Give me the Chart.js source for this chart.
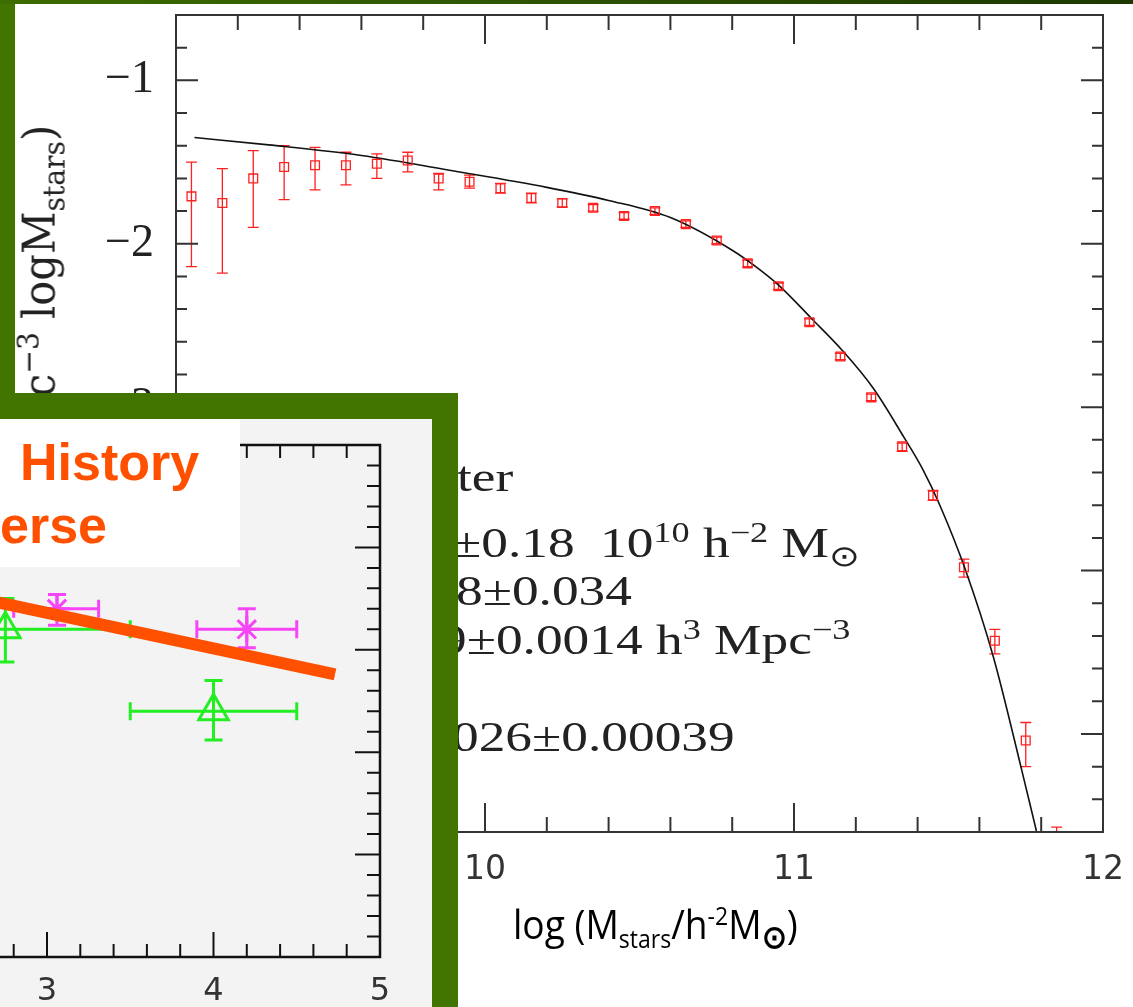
<!DOCTYPE html>
<html><head><meta charset="utf-8">
<script src="https://cdn.jsdelivr.net/npm/chart.js@4.4.1/dist/chart.umd.min.js"></script>
<style>
html,body{margin:0;padding:0;}
body{width:1133px;height:1007px;position:relative;overflow:hidden;background:#427500;}
#topbar{position:absolute;left:0;top:0;width:1133px;height:4px;background:linear-gradient(to right,#3d6c00,#1c3800);z-index:1;}
#mainPanel{position:absolute;left:15px;top:3px;width:1118px;height:1004px;background:#fff;}
#c1{position:absolute;left:0;top:0;}
.leg{position:absolute;white-space:pre;font-family:"Liberation Serif",serif;color:#222;font-size:42px;line-height:42px;transform-origin:0 0;transform:scaleX(1.27);}
.leg sup,.leg sub{font-size:0.68em;line-height:0;}
#ytitle{position:absolute;white-space:pre;font-family:"DejaVu Serif",serif;color:#222;font-size:40px;line-height:44px;transform-origin:0 0;}
#ytitle sup,#ytitle sub{font-size:0.68em;line-height:0;}
#xtitle{position:absolute;white-space:pre;font-family:"Open Sans",sans-serif;color:#000;font-size:40px;line-height:40px;transform-origin:0 0;}
#xtitle sup,#xtitle sub{font-size:0.62em;line-height:0;}
#inset{position:absolute;left:0;top:393px;width:458px;height:614px;background:#427500;overflow:hidden;z-index:5;}
#insetPanel{position:absolute;left:0;top:26px;width:432px;height:588px;background:#f3f3f3;overflow:hidden;}
#c2{position:absolute;left:-560px;top:0;}
#titleBox{position:absolute;left:0;top:0;width:240px;height:148px;background:#fff;z-index:2;}
.orange{position:absolute;font-family:"Liberation Sans",Arial,sans-serif;font-weight:bold;font-size:52px;color:#ff5000;line-height:52px;white-space:pre;}
</style>
</head>
<body>
<div id="mainPanel"></div>
<canvas id="c1" width="1133" height="1007"></canvas>
<div id="ytitle">c<sup>−3</sup> logM<sub>stars</sub>)</div>
<div class="leg" style="left:457px;top:456px;">ter</div>
<div class="leg" style="left:452px;top:522px;">±0.18<span style="margin-left:20px"></span>10<sup>10</sup> h<sup>−2</sup> M<sub>⊙</sub></div>
<div class="leg" style="left:456px;top:570px;">8±0.034</div>
<div class="leg" style="left:440px;top:619px;">9±0.0014 h<sup>3</sup> Mpc<sup>−3</sup></div>
<div class="leg" style="left:452px;top:716px;">026±0.00039</div>
<div id="xtitle">log (M<sub>stars</sub>/h<sup>-2</sup>M<sub style="font-weight:bold;font-size:0.8em">⊙</sub>)</div>
<div id="topbar"></div>
<div id="inset">
  <div id="insetPanel">
    <div id="titleBox">
      <div class="orange" style="left:20px;top:17px;">History</div>
      <div class="orange" style="left:0px;top:80px;">erse</div>
    </div>
    <canvas id="c2" width="992" height="588"></canvas>
  </div>
</div>
<script>
// ===== Main chart: stellar mass function =====
const massBins = [9.05,9.15,9.25,9.35,9.45,9.55,9.65,9.75,9.85,9.95,10.05,10.15,10.25,10.35,10.45,10.55,10.65,10.75,10.85,10.95,11.05,11.15,11.25,11.35,11.45,11.55,11.65,11.75,11.85];
const logPhi = [-1.71,-1.75,-1.60,-1.53,-1.52,-1.52,-1.51,-1.49,-1.60,-1.62,-1.66,-1.72,-1.75,-1.78,-1.83,-1.80,-1.88,-1.98,-2.12,-2.26,-2.48,-2.69,-2.94,-3.24,-3.54,-3.98,-4.43,-5.04,-5.75];
const logPhiLow = [-2.14,-2.18,-1.90,-1.73,-1.67,-1.64,-1.60,-1.56,-1.67,-1.66,-1.69,-1.75,-1.775,-1.80,-1.85,-1.82,-1.90,-2.00,-2.14,-2.28,-2.50,-2.71,-2.96,-3.27,-3.57,-4.04,-4.51,-5.20,-5.93];
const logPhiHigh = [-1.50,-1.54,-1.43,-1.40,-1.41,-1.44,-1.45,-1.44,-1.57,-1.58,-1.63,-1.69,-1.725,-1.76,-1.81,-1.78,-1.86,-1.96,-2.10,-2.24,-2.46,-2.67,-2.92,-3.22,-3.51,-3.93,-4.36,-4.93,-5.57];
const fitMass = [9.06,9.3,9.6,9.9,10.2,10.4,10.6,10.8,10.89,10.957,11.055,11.155,11.256,11.356,11.418,11.472,11.553,11.645,11.737,11.785];
const fitLogPhi = [-1.35,-1.395,-1.46,-1.555,-1.655,-1.735,-1.84,-2.04,-2.16,-2.265,-2.454,-2.65,-2.883,-3.185,-3.385,-3.60,-3.986,-4.527,-5.221,-5.598];
const massTicks = [10,11,12];
const phiTicks = [-1,-2,-3,-4,-5];

// ===== Inset: star formation history =====
const zGreen = [2.75, 4.0];
const zGreenLo = [2.0, 3.5];
const zGreenHi = [3.5, 4.5];
const sfrGreen = [-1.40, -1.80];
const sfrGreenLo = [-1.56, -1.94];
const sfrGreenHi = [-1.25, -1.65];
const zMagenta = [3.06, 4.2];
const zMagentaLo = [2.8, 3.9];
const zMagentaHi = [3.31, 4.5];
const sfrMagenta = [-1.30, -1.40];
const sfrMagentaLo = [-1.38, -1.49];
const sfrMagentaHi = [-1.23, -1.30];
const zModel = [2.6, 4.73];
const sfrModel = [-1.25, -1.62];
const zTicks = [3,4,5];

const pts = (xs, ys) => xs.map((x, i) => ({x, y: ys[i]}));

const errorBarPlugin = {
  id: 'errorBars',
  beforeDatasetsDraw(chart) {
    const {ctx, chartArea: a} = chart;
    ctx.save();
    ctx.beginPath(); ctx.rect(a.left, a.top, a.right - a.left, a.bottom - a.top); ctx.clip();
    chart.data.datasets.forEach(ds => {
      const eb = ds.errorBars; if (!eb) return;
      const xs = chart.scales.x, ys = chart.scales.y;
      ctx.strokeStyle = eb.color; ctx.lineWidth = eb.width; ctx.lineCap = 'butt';
      ds.data.forEach((p, j) => {
        const px = xs.getPixelForValue(p.x), py = ys.getPixelForValue(p.y);
        ctx.beginPath();
        if (eb.yLo) {
          const y1 = ys.getPixelForValue(eb.yLo[j]), y2 = ys.getPixelForValue(eb.yHi[j]);
          ctx.moveTo(px, y1); ctx.lineTo(px, y2);
          ctx.moveTo(px - eb.cap, y1); ctx.lineTo(px + eb.cap, y1);
          ctx.moveTo(px - eb.cap, y2); ctx.lineTo(px + eb.cap, y2);
        }
        if (eb.xLo) {
          const x1 = xs.getPixelForValue(eb.xLo[j]), x2 = xs.getPixelForValue(eb.xHi[j]);
          ctx.moveTo(x1, py); ctx.lineTo(x2, py);
          ctx.moveTo(x1, py - eb.cap); ctx.lineTo(x1, py + eb.cap);
          ctx.moveTo(x2, py - eb.cap); ctx.lineTo(x2, py + eb.cap);
        }
        ctx.stroke();
      });
    });
    ctx.restore();
  }
};

const framePlugin = {
  id: 'frame',
  afterDraw(chart, args, o) {
    const {ctx, chartArea: a} = chart;
    const xs = chart.scales.x, ys = chart.scales.y;
    ctx.save();
    ctx.strokeStyle = o.color; ctx.lineWidth = o.width;
    ctx.strokeRect(a.left, a.top, a.right - a.left, a.bottom - a.top);
    ctx.lineWidth = o.tickWidth;
    ctx.beginPath();
    const each = (scale, step, major, fn) => {
      const n0 = Math.ceil(scale.min / step - 1e-6), n1 = Math.floor(scale.max / step + 1e-6);
      for (let n = n0; n <= n1; n++) {
        const v = n * step;
        const isMajor = Math.abs(v / major - Math.round(v / major)) < 1e-6;
        fn(scale.getPixelForValue(v), isMajor);
      }
    };
    each(xs, o.xMinor, o.xMajor, (px, M) => {
      const L = M ? o.xMajorLen : o.xMinorLen;
      ctx.moveTo(px, a.bottom); ctx.lineTo(px, a.bottom - L);
      ctx.moveTo(px, a.top); ctx.lineTo(px, a.top + L);
    });
    each(ys, o.yMinor, o.yMajor, (py, M) => {
      const L = M ? o.yMajorLen : o.yMinorLen;
      ctx.moveTo(a.left, py); ctx.lineTo(a.left + L, py);
      ctx.moveTo(a.right, py); ctx.lineTo(a.right - L, py);
    });
    ctx.stroke();
    ctx.restore();
  }
};

const noPadX = s => { s.paddingLeft = 0; s.paddingRight = 0; };
const noPadY = s => { s.paddingTop = 0; s.paddingBottom = 0; };

new Chart(document.getElementById('c1'), {
  type: 'scatter',
  data: {
    datasets: [
      {
        type: 'line', label: 'Schechter fit', data: pts(fitMass, fitLogPhi),
        borderColor: '#111', borderWidth: 1.6, pointRadius: 0, fill: false,
        cubicInterpolationMode: 'monotone', order: 2
      },
      {
        label: 'Stellar mass function', data: pts(massBins, logPhi),
        pointStyle: 'rect', pointRadius: 6.2, borderColor: '#ff2020', borderWidth: 1.3,
        backgroundColor: 'rgba(0,0,0,0)', order: 1,
        errorBars: {yLo: logPhiLow, yHi: logPhiHigh, color: '#ff2020', width: 1.3, cap: 5.5}
      }
    ]
  },
  options: {
    responsive: false, animation: false, devicePixelRatio: 1,
    layout: {padding: {left: 0, top: 15, right: 30, bottom: 0}},
    plugins: {
      legend: {display: false}, tooltip: {enabled: false},
      frame: {color: '#333', width: 2, tickWidth: 2, xMinor: 0.2, xMajor: 1, xMinorLen: 15, xMajorLen: 29,
              yMinor: 0.2, yMajor: 1, yMinorLen: 11, yMajorLen: 22}
    },
    scales: {
      x: {
        type: 'linear', min: 9, max: 12,
        grid: {display: false, drawTicks: false, tickLength: 0}, border: {display: false},
        afterBuildTicks: s => { s.ticks = massTicks.map(v => ({value: v})); },
        ticks: {font: {family: 'DejaVu Sans', size: 33}, color: '#333', padding: 19, callback: v => String(v)},
        afterFit: s => { s.height = 175; noPadX(s); }
      },
      y: {
        type: 'linear', min: -5.6, max: -0.6,
        grid: {display: false, drawTicks: false, tickLength: 0}, border: {display: false},
        afterBuildTicks: s => { s.ticks = phiTicks.map(v => ({value: v})); },
        ticks: {font: {family: 'Liberation Serif', size: 46}, color: '#222', padding: 22,
                callback: v => (v < 0 ? '\u2212' : '') + Math.abs(v)},
        afterFit: s => { s.width = 176; noPadY(s); }
      }
    }
  },
  plugins: [errorBarPlugin, framePlugin]
});

new Chart(document.getElementById('c2'), {
  type: 'scatter',
  data: {
    datasets: [
      {
        type: 'line', label: 'Model', data: pts(zModel, sfrModel),
        borderColor: '#ff5000', borderWidth: 12, pointRadius: 0, fill: false, order: 0
      },
      {
        label: 'Triangles', data: pts(zGreen, sfrGreen),
        pointStyle: 'triangle', pointRadius: 17, borderColor: '#22ee22', borderWidth: 3,
        backgroundColor: 'rgba(0,0,0,0)', order: 2,
        errorBars: {xLo: zGreenLo, xHi: zGreenHi, yLo: sfrGreenLo, yHi: sfrGreenHi, color: '#22ee22', width: 3, cap: 9}
      },
      {
        label: 'Stars', data: pts(zMagenta, sfrMagenta),
        pointStyle: 'star', pointRadius: 13, borderColor: '#f645f6', borderWidth: 3,
        backgroundColor: 'rgba(0,0,0,0)', order: 1,
        errorBars: {xLo: zMagentaLo, xHi: zMagentaHi, yLo: sfrMagentaLo, yHi: sfrMagentaHi, color: '#f645f6', width: 3, cap: 9}
      }
    ]
  },
  options: {
    responsive: false, animation: false, devicePixelRatio: 1,
    layout: {padding: {left: 0, top: 26, right: 52, bottom: 0}},
    plugins: {
      legend: {display: false}, tooltip: {enabled: false},
      frame: {color: '#111', width: 2.5, tickWidth: 2, xMinor: 0.2, xMajor: 1, xMinorLen: 13, xMajorLen: 25,
              yMinor: 0.1, yMajor: 0.5, yMinorLen: 13, yMajorLen: 25}
    },
    scales: {
      x: {
        type: 'linear', min: 0, max: 5,
        grid: {display: false, drawTicks: false, tickLength: 0}, border: {display: false},
        afterBuildTicks: s => { s.ticks = zTicks.map(v => ({value: v})); },
        ticks: {font: {family: 'DejaVu Sans', size: 32}, color: '#333', padding: 15, callback: v => String(v)},
        afterFit: s => { s.height = 50; noPadX(s); }
      },
      y: {
        type: 'linear', min: -3, max: -0.5,
        grid: {display: false, drawTicks: false, tickLength: 0}, border: {display: false},
        ticks: {display: false},
        afterFit: s => { s.width = 107.5; noPadY(s); }
      }
    }
  },
  plugins: [errorBarPlugin, framePlugin]
});

// Fit rotated y-axis title and x-axis title to their measured spans
(function () {
  const yt = document.getElementById('ytitle');
  const ky = 272 / yt.offsetWidth;
  yt.style.left = '15px'; yt.style.top = '397px';
  yt.style.transform = 'rotate(-90deg) scale(' + ky + ',1.1)';
  const xt = document.getElementById('xtitle');
  const kx = 285 / xt.offsetWidth;
  xt.style.left = '513px'; xt.style.top = '904px';
  xt.style.transform = 'scaleX(' + kx + ')';
})();
</script>
</body></html>
